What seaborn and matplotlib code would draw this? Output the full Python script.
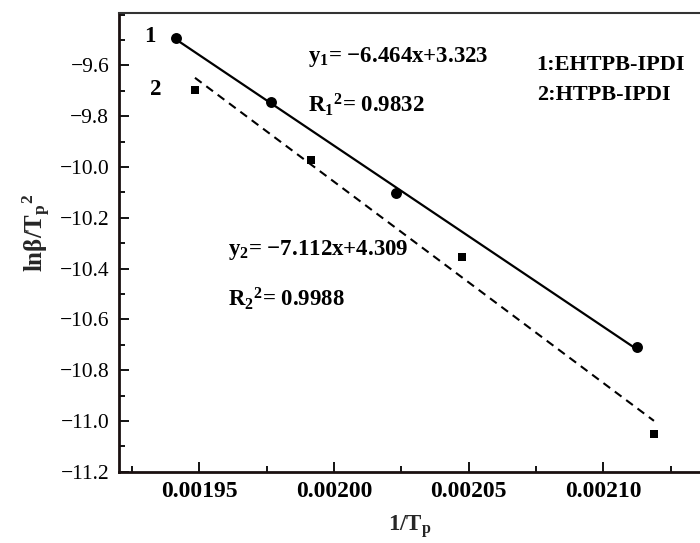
import numpy as np
import pandas as pd
import matplotlib
matplotlib.use("Agg")
import matplotlib.pyplot as plt
import seaborn as sns
from matplotlib.ticker import MultipleLocator

# ---- data ----
x_ehtpb = [0.0019414, 0.0019766, 0.0020230, 0.0021125]
y_ehtpb = [-9.491, -9.743, -10.102, -10.709]
x_htpb = [0.0019484, 0.0019915, 0.0020475, 0.0021188]
y_htpb = [-9.696, -9.972, -10.354, -11.051]

series_labels = ["1:EHTPB-IPDI", "2:HTPB-IPDI"]
eq1 = r"$y_1$= −6.464x+3.323"
r1 = r"$R_1$$^2$= 0.9832"
eq2 = r"$y_2$= −7.112x+4.309"
r2 = r"$R_2$$^2$= 0.9988"
x_ticks = [0.00195, 0.00200, 0.00205, 0.00210]
x_ticklabels = ["0.00195", "0.00200", "0.00205", "0.00210"]
y_ticks = [-11.2, -11.0, -10.8, -10.6, -10.4, -10.2, -10.0, -9.8, -9.6]

df1 = pd.DataFrame({"x": x_ehtpb, "y": y_ehtpb})
df2 = pd.DataFrame({"x": x_htpb, "y": y_htpb})

sns.set_style("ticks")
plt.rcParams["font.family"] = ["Liberation Serif", "DejaVu Serif"]
plt.rcParams["mathtext.fontset"] = "custom"
plt.rcParams["mathtext.rm"] = "Liberation Serif:bold"
plt.rcParams["mathtext.it"] = "Liberation Serif:bold"
plt.rcParams["mathtext.bf"] = "Liberation Serif:bold"
plt.rcParams["mathtext.default"] = "bf"

fig = plt.figure(figsize=(7.0, 5.43), dpi=100)
ax = fig.add_axes([0.170, 0.1313, 0.83, 0.845])

sns.regplot(data=df1, x="x", y="y", ax=ax, ci=None, marker="o",
            scatter_kws=dict(s=62, color="black", alpha=1, zorder=3, linewidths=0),
            line_kws=dict(color="black", lw=1.6, ls="-"))
sns.regplot(data=df2, x="x", y="y", ax=ax, ci=None, marker="s",
            scatter_kws=dict(s=40, color="black", alpha=1, zorder=3, linewidths=0),
            line_kws=dict(color="black", lw=1.5, ls=(0, (4, 2.8))))

ax.set_xlim(0.0019202, 0.0021359)
ax.set_ylim(-11.2, -9.393)

ax.set_xticks(x_ticks)
ax.set_xticklabels(x_ticklabels, fontsize=17, fontweight="bold")
ax.set_yticks(y_ticks)
ax.set_yticklabels([f"{v:.1f}".replace("-", "−") for v in y_ticks], fontsize=15.5)
ax.xaxis.set_minor_locator(MultipleLocator(0.000025))
ax.yaxis.set_minor_locator(MultipleLocator(0.1))
ax.tick_params(which="major", direction="in", length=7, width=1.3, colors="black", pad=7)
ax.tick_params(which="minor", direction="in", length=4, width=1.3, colors="black")

for side in ["left", "bottom"]:
    ax.spines[side].set_linewidth(2.0)
    ax.spines[side].set_color("#1a1010")
ax.spines["top"].set_linewidth(1.5)
ax.spines["top"].set_color("#333333")
ax.spines["right"].set_visible(False)

ax.set_xlabel(r"1/T$_p$", fontsize=16.5, fontweight="bold", labelpad=8)
ax.set_ylabel(r"lnβ/T$_p$$^2$", fontsize=18, fontweight="bold")
ax.yaxis.set_label_coords(-0.113, 0.52)

tkw = dict(transform=ax.transAxes, fontsize=16.5, fontweight="bold", color="black")
ax.text(0.053, 0.948, "1", ha="center", va="center", **tkw)
ax.text(0.064, 0.834, "2", ha="center", va="center", **tkw)
ax.text(0.325, 0.904, eq1, ha="left", va="center", **tkw)
ax.text(0.325, 0.800, r1, ha="left", va="center", **tkw)
ax.text(0.719, 0.887, series_labels[0], ha="left", va="center", fontsize=16,
        fontweight="bold", color="black", transform=ax.transAxes)
ax.text(0.719, 0.821, series_labels[1], ha="left", va="center", fontsize=16,
        fontweight="bold", color="black", transform=ax.transAxes)
ax.text(0.188, 0.483, eq2, ha="left", va="center", **tkw)
ax.text(0.188, 0.376, r2, ha="left", va="center", **tkw)

fig.savefig("out.png", dpi=100)
